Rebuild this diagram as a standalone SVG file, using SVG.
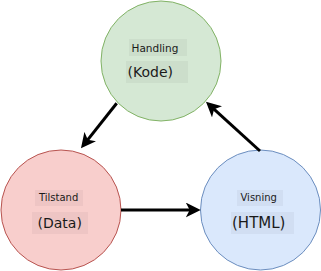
<svg xmlns="http://www.w3.org/2000/svg" width="321" height="271" viewBox="0 0 321 271">
  <style>
    .lbl { font-family: "DejaVu Sans", Verdana, sans-serif; fill: #1a1a1a; }
    .small { font-size: 10px; }
    .big { font-size: 14px; }
    .bg { fill: #000000; fill-opacity: 0.04; }
    .edge { stroke: #000000; stroke-width: 3; fill: none; }
  </style>
  <defs>
    <marker id="arrow" markerUnits="userSpaceOnUse" markerWidth="15" markerHeight="15" viewBox="0 0 15 15" refX="9" refY="7.5" orient="auto">
      <path d="M0,0 L15,7.5 L0,15 L4,7.5 Z" fill="#000000"/>
    </marker>
  </defs>
  <g id="node-handling">
    <circle cx="161" cy="61" r="60" fill="#d5e8d4" stroke="#82b366" stroke-width="1"/>
    <rect class="bg" x="129" y="39" width="58" height="17"/>
    <text class="lbl small" x="131.5" y="51.5" style="font-size:10.5px">Handling</text>
    <rect class="bg" x="126" y="61" width="62" height="22"/>
    <text class="lbl big" x="127.5" y="77">(Kode)</text>
  </g>
  <g id="node-tilstand">
    <circle cx="61" cy="210" r="60" fill="#f8cecc" stroke="#b85450" stroke-width="1"/>
    <rect class="bg" x="35" y="190" width="48" height="16"/>
    <text class="lbl small" x="39" y="201">Tilstand</text>
    <rect class="bg" x="32" y="212" width="56" height="22"/>
    <text class="lbl big" x="37.5" y="228">(Data)</text>
  </g>
  <g id="node-visning">
    <circle cx="260.5" cy="210" r="60" fill="#dae8fc" stroke="#6c8ebf" stroke-width="1"/>
    <rect class="bg" x="237" y="190" width="46" height="16"/>
    <text class="lbl small" x="240.5" y="201">Visning</text>
    <rect class="bg" x="231" y="212" width="63" height="22"/>
    <text class="lbl big" x="232" y="228" style="font-size:15px">(HTML)</text>
  </g>
  <g id="connectors">
    <line class="edge" x1="116.7" y1="103.3" x2="84.7" y2="143.6" marker-end="url(#arrow)"/>
    <line class="edge" x1="121" y1="210" x2="194.7" y2="210" marker-end="url(#arrow)"/>
    <line class="edge" x1="260" y1="151" x2="210.4" y2="105.8" marker-end="url(#arrow)"/>
  </g>
</svg>
